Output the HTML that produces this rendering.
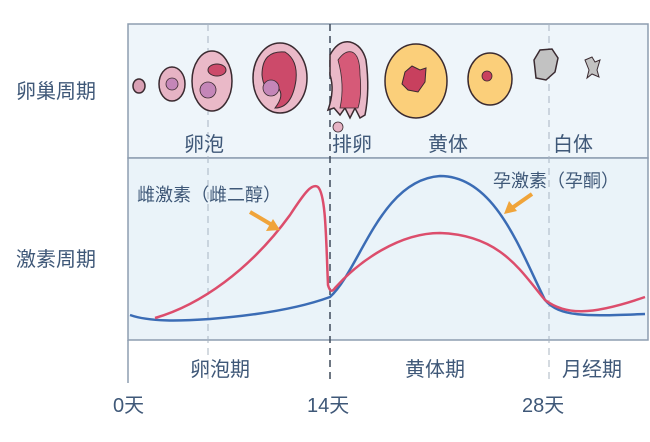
<!DOCTYPE html>
<html><head><meta charset="utf-8"><style>
body{margin:0;background:#fff;width:650px;height:437px;overflow:hidden}
svg text{font-family:"Liberation Sans","Noto Sans CJK SC",sans-serif;fill:#3f5878}
</style></head><body>
<svg width="650" height="437" viewBox="0 0 650 437">
<rect x="128" y="24" width="520" height="134" fill="#eef5fa" stroke="#8d9db0" stroke-width="1.5"/>
<rect x="128" y="158" width="520" height="182" fill="#eaf3f9" stroke="#8d9db0" stroke-width="1.5"/>
<line x1="128" y1="340" x2="128" y2="383" stroke="#8d9db0" stroke-width="1.5"/>
<line x1="208" y1="24" x2="208" y2="383" stroke="#a8b4c2" stroke-dasharray="7,5"/>
<line x1="549" y1="24" x2="549" y2="383" stroke="#a8b4c2" stroke-dasharray="7,5"/>
<line x1="330" y1="24" x2="330" y2="383" stroke="#3e4a5a" stroke-width="1.5" stroke-dasharray="7,5"/>
<g font-size="20">
<text x="16" y="98">卵巢周期</text>
<text x="16" y="266">激素周期</text>
<text x="184" y="151">卵泡</text>
<text x="332" y="151">排卵</text>
<text x="428" y="151">黄体</text>
<text x="553" y="151">白体</text>
<text x="190" y="376">卵泡期</text>
<text x="405" y="376">黄体期</text>
<text x="562" y="376">月经期</text>
<text x="113" y="412">0天</text>
<text x="307" y="412">14天</text>
<text x="522" y="412">28天</text>
</g>
<g font-size="18">
<text x="137" y="201">雌激素（雌二醇）</text>
<text x="493" y="187">孕激素（孕酮）</text>
</g>
<g stroke="#3a2a30" stroke-width="1.5">
<ellipse cx="139" cy="86" rx="6" ry="7" fill="#d9a0b4"/>
<ellipse cx="172" cy="84" rx="13" ry="17" fill="#e6b3c4"/>
<circle cx="172" cy="84" r="6" fill="#c486b8" stroke-width="0.8"/>
<ellipse cx="212" cy="81" rx="20" ry="30" fill="#eab9c8"/>
<ellipse cx="217" cy="70" rx="9" ry="6" fill="#cc4a6a" stroke-width="1"/>
<circle cx="208" cy="90" r="8" fill="#c486b8" stroke-width="0.8"/>
<ellipse cx="280" cy="78" rx="27" ry="35" fill="#eab9c8"/>
<path d="M262 75 Q262 50 285 52 Q298 60 296 80 Q292 108 275 108 Q285 95 278 88 Q264 95 262 75Z" fill="#cc4a6a" stroke-width="1"/>
<circle cx="271" cy="88" r="8" fill="#c486b8" stroke-width="0.8"/>
<path d="M330 55 Q338 40 350 42 Q362 45 366 60 Q370 90 365 115 L360 118 L355 108 L350 118 L345 108 L340 115 L334 108 L328 110 Q335 90 330 75Z" fill="#eab9c8"/>
<path d="M338 60 Q345 50 352 52 Q360 55 360 75 Q362 95 358 108 L340 108 Q345 85 338 60Z" fill="#d65a78" stroke-width="0.8"/>
<circle cx="338" cy="127" r="5" fill="#e6b3c4" stroke-width="0.8"/>
<ellipse cx="416" cy="81" rx="31" ry="37" fill="#fbcf7a"/>
<path d="M405 72 L412 66 L420 70 L426 68 L425 82 L418 92 L408 90 L402 84Z" fill="#c8405e" stroke-width="1"/>
<ellipse cx="490" cy="79" rx="22" ry="26" fill="#fbcf7a"/>
<circle cx="487" cy="76" r="5" fill="#c8405e" stroke-width="0.8"/>
<path d="M534 60 L540 50 L552 49 L558 58 L555 72 L546 80 L536 78Z" fill="#c2c2c2"/>
<path d="M585 60 L592 57 L595 62 L600 60 L597 70 L599 77 L592 74 L587 78 L589 70Z" fill="#c2c2c2" stroke-width="1"/>
</g>
<path d="M130 315 C150 322 180 321 210 319 C260 315 300 308 330 297 C360 270 380 180 440 176 C495 176 520 250 545 300 C560 318 590 316 645 314" fill="none" stroke="#3b6cb5" stroke-width="2.5"/>
<path d="M155 318 C200 305 250 270 290 215 C305 192 312 183 318 187 C326 195 326 240 328 285 C330 292 332 292 335 288 C360 260 400 233 440 233 C500 235 520 270 545 300 C565 315 590 316 645 297" fill="none" stroke="#dc4d6c" stroke-width="2.5"/>
<g stroke="#f0a43a" stroke-width="4" fill="#f0a43a">
<line x1="250" y1="212" x2="272" y2="225"/>
<polygon points="280,230 266,231 273,219" stroke="none"/>
<line x1="532" y1="194" x2="512" y2="208"/>
<polygon points="504,214 509,201 517,211" stroke="none"/>
</g>
</svg>
</body></html>
